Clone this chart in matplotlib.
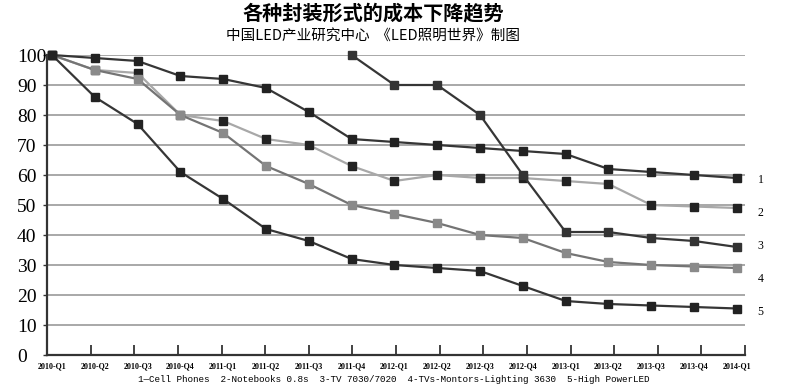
import numpy as np
import matplotlib
matplotlib.use('Agg')
import matplotlib.pyplot as plt

# 季度
quarters = ['2010-Q1', '2010-Q2', '2010-Q3', '2010-Q4',
            '2011-Q1', '2011-Q2', '2011-Q3', '2011-Q4',
            '2012-Q1', '2012-Q2', '2012-Q3', '2012-Q4',
            '2013-Q1', '2013-Q2', '2013-Q3', '2013-Q4', '2014-Q1']

# 成本指数 (起点 = 100)
cell_phones = [100, 99, 98, 93, 92, 89, 81, 72, 71, 70, 69, 68, 67, 62, 61, 60, 59]
notebooks = [100, 95, 94, 80, 78, 72, 70, 63, 58, 60, 59, 59, 58, 57, 50, 49.5, 49]
tv_7030 = [np.nan] * 7 + [100, 90, 90, 80, 60, 41, 41, 39, 38, 36]
tv_3630 = [100, 95, 92, 80, 74, 63, 57, 50, 47, 44, 40, 39, 34, 31, 30, 29.5, 29]
high_power = [100, 86, 77, 61, 52, 42, 38, 32, 30, 29, 28, 23, 18, 17, 16.5, 16, 15.5]

end_labels = ['1', '2', '3', '4', '5']
end_label_y = [58.3, 47.4, 36.3, 25.4, 14.4]

legend_text = ('1\u2014Cell Phones  2-Notebooks 0.8s  3-TV 7030/7020  '
               '4-TVs-Montors-Lighting 3630  5-High PowerLED')

x = np.arange(len(quarters))

fig = plt.figure(figsize=(8, 3.92), dpi=100)
ax = fig.add_axes([47 / 800, 1 - 355 / 392, 698 / 800, 300 / 392])

dark = '#363636'
ax.plot(x, cell_phones, color=dark, lw=1.6, marker='s', ms=6, mfc='#222', mec='#222', clip_on=False, zorder=4)
ax.plot(x, notebooks, color='#a8a8a8', lw=1.6, marker='s', ms=5.5, mfc='#222', mec='#222', clip_on=False, zorder=3)
ax.plot(x, tv_7030, color=dark, lw=1.6, marker='s', ms=6, mfc='#333', mec='#333', clip_on=False, zorder=4)
ax.plot(x, tv_3630, color='#747474', lw=1.6, marker='s', ms=6, mfc='#8a8a8a', mec='#8a8a8a', clip_on=False, zorder=3)
ax.plot(x, high_power, color=dark, lw=1.6, marker='s', ms=6, mfc='#222', mec='#222', clip_on=False, zorder=4)

xmin, xmax = -0.117, 16.19
ax.set_xlim(xmin, xmax)
ax.set_ylim(0, 100)

# 网格线
for v in range(10, 101, 10):
    ax.axhline(v, color='#9a9a9a', lw=1.2, zorder=1)

# y 轴标签左对齐
ax.set_yticks(range(0, 101, 10))
ax.set_yticklabels([str(v) for v in range(0, 101, 10)], family='Liberation Serif', fontsize=14, ha='left')
ax.tick_params(axis='y', length=3, width=1, color='#333', pad=18.6)

ax.set_xticks(x)
ax.set_xticklabels(quarters, family='Liberation Serif', fontweight='bold', fontsize=5.8)
ax.tick_params(axis='x', which='major', length=0, pad=5)
ax.set_xticks(np.linspace(xmin, xmax, 17)[1:], minor=True)
ax.tick_params(axis='x', which='minor', direction='in', length=7, width=1.2, color='#222')

for s in ['top', 'right']:
    ax.spines[s].set_visible(False)
for s in ['left', 'bottom']:
    ax.spines[s].set_color('#333')
    ax.spines[s].set_linewidth(1.6)

for lab, yv in zip(end_labels, end_label_y):
    ax.text(16.55, yv, lab, family='Liberation Serif', fontsize=8.5, ha='center', va='center')

fig.text(373 / 800, 1 - 13 / 392, '各种封装形式的成本下降趋势', family=['Noto Sans CJK SC', 'DejaVu Sans'],
         fontsize=14.5, fontweight='bold', ha='center', va='center')
fig.text(373 / 800, 1 - 36 / 392, '中国LED产业研究中心  《LED照明世界》制图',
         family=['Noto Sans CJK SC', 'DejaVu Sans'], fontsize=10.5, ha='center', va='center')
fig.text(394 / 800, 1 - 380 / 392, legend_text, family=['Liberation Mono', 'DejaVu Sans Mono'],
         fontsize=6.7, ha='center', va='center')

plt.savefig('out.png', dpi=100)
